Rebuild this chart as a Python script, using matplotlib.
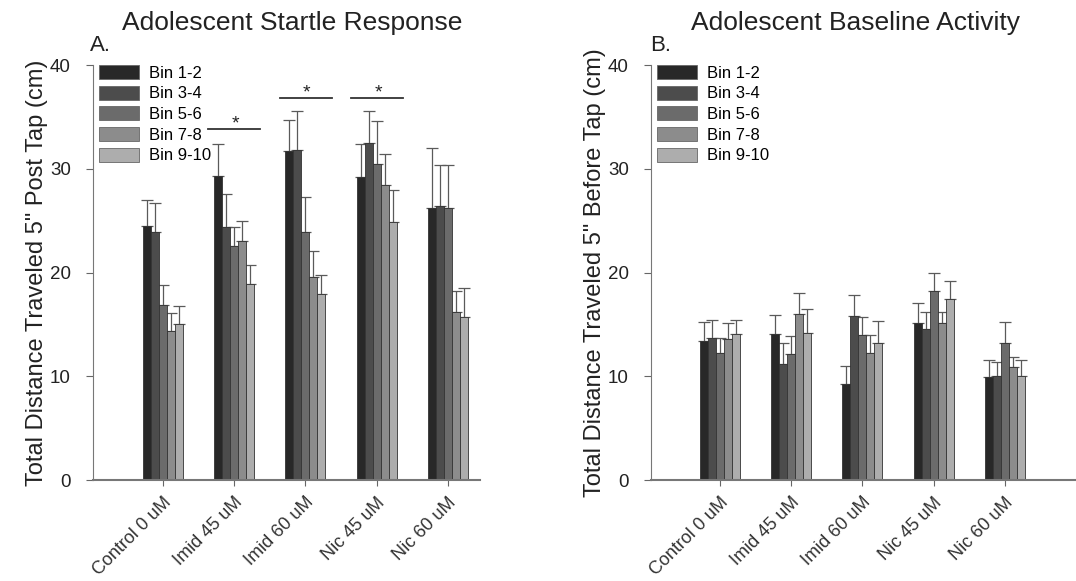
import numpy as np
import matplotlib.pyplot as plt

plt.rcParams['font.family'] = ['Liberation Sans', 'DejaVu Sans']

groups = ["Control 0 uM", "Imid 45 uM", "Imid 60 uM", "Nic 45 uM", "Nic 60 uM"]
bins = ["Bin 1-2", "Bin 3-4", "Bin 5-6", "Bin 7-8", "Bin 9-10"]
colors = ["#282828", "#4c4c4c", "#6b6b6b", "#8c8c8c", "#adadad"]

# startle response (post tap), one list per bin, one value per group
startle = [
    [24.5, 29.3, 31.7, 29.2, 26.2],
    [23.9, 24.4, 31.8, 32.5, 26.4],
    [16.9, 22.6, 23.9, 30.5, 26.2],
    [14.4, 23.0, 19.6, 28.4, 16.2],
    [15.0, 18.9, 17.9, 24.9, 15.7],
]
startle_err = [
    [2.5, 3.1, 3.0, 3.2, 5.8],
    [2.8, 3.2, 3.8, 3.1, 4.0],
    [1.9, 1.8, 3.4, 4.1, 4.2],
    [1.7, 2.0, 2.5, 3.0, 2.0],
    [1.8, 1.8, 1.9, 3.1, 2.8],
]

# baseline activity (before tap)
baseline = [
    [13.4, 14.1, 9.3, 15.1, 9.9],
    [13.7, 11.2, 15.8, 14.6, 10.0],
    [12.2, 12.1, 14.0, 18.2, 13.2],
    [13.6, 16.0, 12.2, 15.1, 10.9],
    [14.1, 14.2, 13.2, 17.4, 10.0],
]
baseline_err = [
    [1.8, 1.8, 1.7, 2.0, 1.7],
    [1.7, 2.0, 2.0, 1.6, 1.4],
    [1.5, 1.8, 1.7, 1.8, 2.0],
    [1.5, 2.0, 1.8, 1.1, 1.0],
    [1.3, 2.3, 2.1, 1.8, 1.6],
]

sig_groups = [1, 2, 3]
sig_heights = [33.8, 36.8, 36.8]

w = 0.112
x = np.arange(len(groups))

fig = plt.figure(figsize=(10.76, 5.81), dpi=100)
axA = fig.add_axes([0.0864, 0.1738, 0.3597, 0.7143])
axB = fig.add_axes([0.605, 0.1738, 0.395, 0.7143])


def draw_panel(ax, vals, errs, ylab):
    for i in range(len(bins)):
        pos = x + (i - 2) * w
        ax.bar(pos, vals[i], width=w, color=colors[i], edgecolor="#333333",
               linewidth=0.6, label=bins[i], zorder=2)
        ax.errorbar(pos, vals[i], yerr=[np.zeros(len(groups)), errs[i]],
                    fmt="none", ecolor="#5a5a5a", elinewidth=0.9,
                    capsize=4, capthick=0.9, zorder=1)
    ax.set_ylim(0, 40)
    ax.set_yticks([0, 10, 20, 30, 40])
    ax.set_xticks(x)
    ax.set_xticklabels(groups, rotation=45, ha="right", rotation_mode="anchor",
                       fontsize=13, color="#333333")
    ax.tick_params(axis="y", labelsize=13.5, length=5, color="#666666",
                   labelcolor="#222222", pad=11)
    ax.tick_params(axis="x", length=4, color="#666666", pad=6)
    ax.set_ylabel(ylab, fontsize=17, color="#222222", labelpad=1)
    for s in ["top", "right"]:
        ax.spines[s].set_visible(False)
    ax.spines["left"].set_color("#777777")
    ax.spines["bottom"].set_color("#777777")
    ax.spines["bottom"].set_linewidth(1.5)
    leg = ax.legend(loc="upper left", bbox_to_anchor=(-0.005, 1.02), frameon=False,
                    fontsize=12, handlelength=2.4, handleheight=0.9,
                    labelspacing=0.3, handletextpad=0.6, borderaxespad=0.1)
    for h in leg.legend_handles:
        h.set_edgecolor("#666666")


draw_panel(axA, startle, startle_err, "Total Distance Traveled 5\" Post Tap (cm)")
draw_panel(axB, baseline, baseline_err, "Total Distance Traveled 5\" Before Tap (cm)")
axA.set_xlim(-0.98, 4.45)
axB.set_xlim(-0.97, 5.0)

for g, hgt in zip(sig_groups, sig_heights):
    axA.plot([g - 0.36, g + 0.37], [hgt, hgt], color="#333333", lw=1.3)
    axA.text(g + 0.02, hgt - 0.3, "*", ha="center", va="bottom", fontsize=14, color="#222222")

fig.text(0.272, 0.960, "Adolescent Startle Response", ha="center", va="center", fontsize=19, color="#222222")
fig.text(0.795, 0.960, "Adolescent Baseline Activity", ha="center", va="center", fontsize=19, color="#222222")
fig.text(0.084, 0.922, "A.", ha="left", va="center", fontsize=16, color="#222222")
fig.text(0.604, 0.922, "B.", ha="left", va="center", fontsize=16, color="#222222")

fig.savefig("out.png", dpi=100)
